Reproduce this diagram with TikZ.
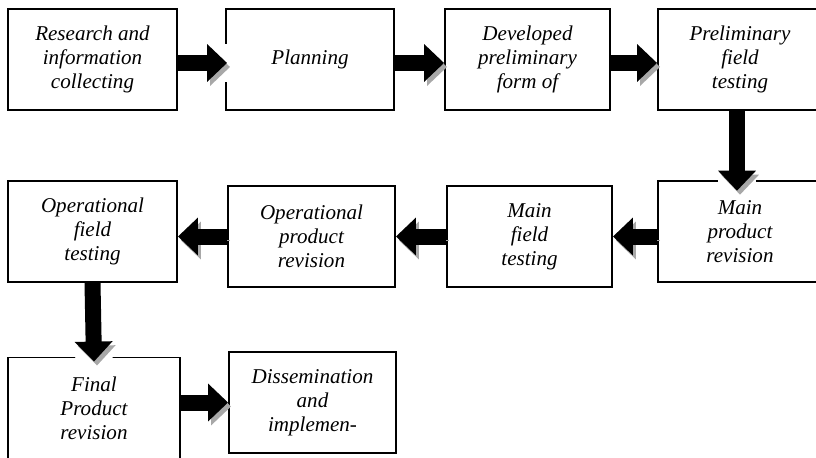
\documentclass[tikz,border=0pt]{standalone}
\usepackage{fontspec}
\setmainfont{Liberation Serif}
\usetikzlibrary{arrows.meta, calc}
\definecolor{cshade}{HTML}{A8A8A8}
\tikzset{
  every picture/.style={x=0.75pt, y=-0.75pt},
  box/.style={draw, line width=1.4pt, align=center, inner sep=0pt,
    minimum width=#1*0.75pt, minimum height=75.75pt,
    font=\itshape\fontsize{15.8}{18}\selectfont},
  box/.default=168,
  fatarrow/.style={line width=12pt, -{Triangle[length=15pt, width=27.5pt]},
    preaction={draw=white, line width=28pt, arrows=-, shorten <=0.8pt},
    preaction={draw=cshade, transform canvas={shift={(2.25pt,-3pt)}}}},
}

\begin{document}
\begin{tikzpicture}
  \useasboundingbox (0,0) rectangle (816,457);
  % first row, left to right
  \node[box=169] (research) at (92.5,59.5) {Research and\\information\\collecting};
  \node[box] (planning) at (310,59.5) {Planning};
  \node[box=165] (prelimform) at (527.5,59.5) {Developed\\preliminary\\form of};
  \node[box=164] (prelimtest) at (740,59.5) {Preliminary\\field\\testing};
  % second row, right to left
  \node[box=164] (mainrev) at (740,231.5) {Main\\product\\revision};
  \node[box=165] (maintest) at (529.5,236.5) {Main\\field\\testing};
  \node[box=167] (oprev) at (311.5,236.5) {Operational\\product\\revision};
  \node[box=169] (optest) at (92.5,231.5) {Operational\\field\\testing};
  % last row
  \node[box=172] (finalrev) at (94,408) {Final\\Product\\revision};
  \node[box=167] (dissem) at (312.5,402.5) {Dissemination\\and\\implemen-};

  \draw[fatarrow] ([yshift=-2.6pt]research.east) -- ([yshift=-2.6pt, xshift=1.5pt]planning.west);
  \draw[fatarrow] ([yshift=-2.6pt]planning.east) -- ([yshift=-2.6pt]prelimform.west);
  \draw[fatarrow] ([yshift=-2.6pt]prelimform.east) -- ([yshift=-2.6pt]prelimtest.west);
  \draw[fatarrow] ([xshift=-2.25pt]prelimtest.south) -- ([xshift=-2.25pt, yshift=-8pt]mainrev.north);
  \draw[fatarrow] (mainrev.west |- maintest.east) -- (maintest.east);
  \draw[fatarrow] (maintest.west) -- (oprev.east);
  \draw[fatarrow] (oprev.west) -- (optest.east |- oprev.west);
  \draw[fatarrow] (optest.south) -- ([yshift=-3.75pt]finalrev.north);
  \draw[fatarrow] (finalrev.east |- dissem.west) -- (dissem.west);
\end{tikzpicture}
\end{document}
